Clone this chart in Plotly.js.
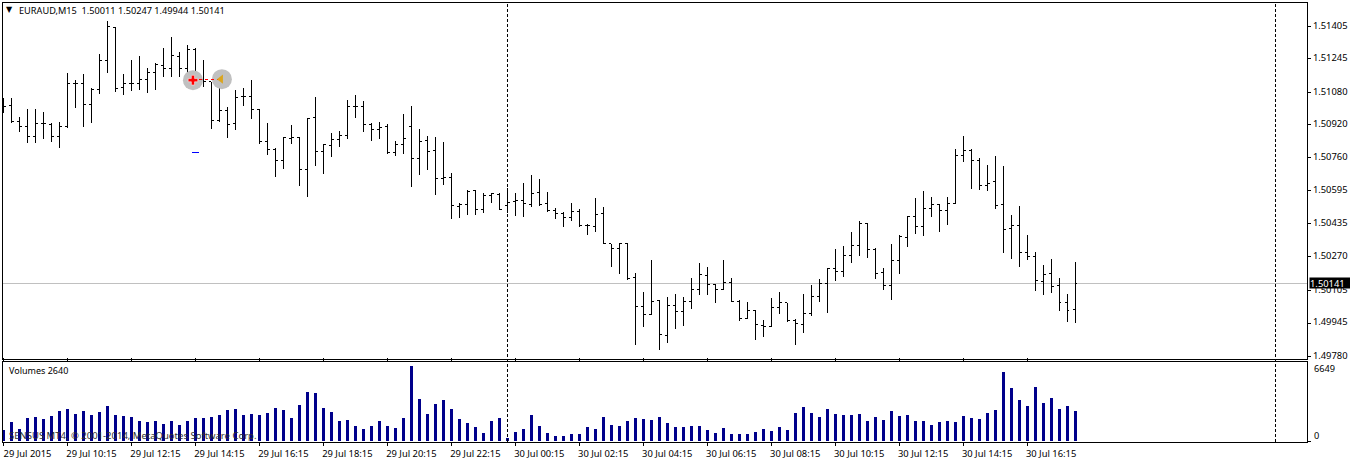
<!DOCTYPE html>
<html>
<head>
<meta charset="utf-8">
<script src="https://cdn.plot.ly/plotly-3.0.1.min.js"></script>
<style>
html,body{margin:0;padding:0;background:#fff;overflow:hidden}
.ohlclayer path,.shapelayer path,.scatterlayer .js-line{shape-rendering:crispEdges}
</style>
</head>
<body>
<div id="chart" style="width:1350px;height:460px"></div>
<script>
const barIndex = Array.from({length:135},(_,i)=>i);
const opens = [
1.51012,1.51015,1.50935,1.50912,1.50863,1.50925,1.50922,1.50863,1.50910,1.51123,
1.51123,1.51020,1.51094,1.51237,1.51399,1.51102,1.51123,1.51123,1.51143,1.51177,
1.51212,1.51197,1.51258,1.51197,1.51291,1.51143,1.51132,1.50941,1.50991,1.50927,
1.51058,1.51058,1.50995,1.50838,1.50799,1.50746,1.50854,1.50858,1.50700,1.50956,
1.50789,1.50820,1.50848,1.50868,1.51012,1.51012,1.50923,1.50897,1.50910,1.50784,
1.50823,1.50912,1.50754,1.50841,1.50794,1.50656,1.50661,1.50518,1.50528,1.50597,
1.50503,1.50572,1.50577,1.50523,1.50543,1.50548,1.50528,1.50587,1.50533,1.50499,
1.50484,1.50464,1.50494,1.50425,1.50420,1.50484,1.50335,1.50312,1.50336,1.50167,
1.50026,1.49987,1.50056,1.49884,1.50031,1.50002,1.50051,1.50110,1.50179,1.50134,
1.50110,1.50144,1.50051,1.49967,1.50007,1.49933,1.49928,1.50021,1.50046,1.49957,
1.49938,1.49992,1.50075,1.50139,1.50213,1.50198,1.50277,1.50326,1.50435,1.50307,
1.50193,1.50130,1.50253,1.50366,1.50469,1.50420,1.50508,1.50528,1.50498,1.50533,
1.50769,1.50794,1.50745,1.50622,1.50641,1.50528,1.50410,1.50425,1.50292,1.50272,
1.50149,1.50189,1.50130,1.50046,1.50011];
const highs = [
1.51050,1.51050,1.50961,1.50997,1.50997,1.50981,1.50931,1.50936,1.51173,1.51143,
1.51168,1.51099,1.51271,1.51433,1.51404,1.51168,1.51237,1.51261,1.51202,1.51222,
1.51300,1.51350,1.51281,1.51315,1.51296,1.51241,1.51132,1.51118,1.51010,1.51094,
1.51099,1.51143,1.51000,1.50927,1.50804,1.50861,1.50917,1.50858,1.50951,1.51059,
1.50828,1.50882,1.50892,1.51041,1.51066,1.51036,1.50931,1.50936,1.50923,1.50843,
1.50972,1.51015,1.50902,1.50863,1.50858,1.50838,1.50685,1.50538,1.50602,1.50602,
1.50587,1.50587,1.50587,1.50607,1.50587,1.50636,1.50671,1.50656,1.50592,1.50513,
1.50489,1.50538,1.50508,1.50430,1.50562,1.50518,1.50336,1.50336,1.50341,1.50189,
1.50100,1.50257,1.50056,1.50075,1.50090,1.50075,1.50169,1.50238,1.50223,1.50139,
1.50253,1.50169,1.50056,1.50051,1.50007,1.49962,1.50066,1.50100,1.50046,1.49967,
1.50090,1.50130,1.50164,1.50213,1.50307,1.50326,1.50395,1.50449,1.50435,1.50316,
1.50218,1.50336,1.50380,1.50474,1.50562,1.50597,1.50567,1.50533,1.50567,1.50799,
1.50863,1.50799,1.50759,1.50725,1.50769,1.50720,1.50479,1.50523,1.50376,1.50297,
1.50233,1.50262,1.50169,1.50090,1.50247];
const lows = [
1.50976,1.50931,1.50886,1.50831,1.50831,1.50851,1.50836,1.50807,1.50907,1.51004,
1.50910,1.50930,1.51071,1.51176,1.51082,1.51068,1.51087,1.51094,1.51077,1.51092,
1.51156,1.51156,1.51156,1.51156,1.51107,1.51107,1.50900,1.50935,1.50856,1.50895,
1.51013,1.50950,1.50828,1.50772,1.50664,1.50704,1.50827,1.50617,1.50566,1.50718,
1.50679,1.50763,1.50812,1.50849,1.50954,1.50886,1.50841,1.50851,1.50777,1.50767,
1.50777,1.50615,1.50674,1.50699,1.50576,1.50625,1.50458,1.50462,1.50477,1.50477,
1.50487,1.50536,1.50502,1.50484,1.50472,1.50467,1.50517,1.50523,1.50489,1.50458,
1.50418,1.50448,1.50418,1.50379,1.50394,1.50335,1.50221,1.50187,1.50157,1.49838,
1.49926,1.49987,1.49813,1.49849,1.49918,1.49931,1.50016,1.50084,1.50084,1.50044,
1.50110,1.50051,1.49957,1.49967,1.49864,1.49874,1.49928,1.49990,1.49952,1.49839,
1.49898,1.49982,1.50051,1.49992,1.50154,1.50174,1.50238,1.50277,1.50267,1.50162,
1.50108,1.50056,1.50187,1.50321,1.50384,1.50374,1.50467,1.50394,1.50428,1.50533,
1.50735,1.50605,1.50602,1.50597,1.50508,1.50292,1.50261,1.50223,1.50257,1.50103,
1.50084,1.50093,1.50005,1.49951,1.49944];
const closes = [
1.51012,1.50935,1.50912,1.50863,1.50925,1.50925,1.50863,1.50910,1.51123,1.51123,
1.51020,1.51094,1.51237,1.51404,1.51099,1.51123,1.51123,1.51143,1.51177,1.51217,
1.51197,1.51261,1.51197,1.51291,1.51143,1.51132,1.50941,1.50991,1.50922,1.51053,
1.51058,1.50995,1.50838,1.50799,1.50746,1.50858,1.50858,1.50700,1.50951,1.50789,
1.50823,1.50848,1.50868,1.51012,1.51012,1.50923,1.50897,1.50907,1.50784,1.50823,
1.50853,1.50754,1.50838,1.50789,1.50656,1.50661,1.50523,1.50528,1.50592,1.50503,
1.50572,1.50582,1.50503,1.50538,1.50548,1.50533,1.50582,1.50528,1.50499,1.50484,
1.50464,1.50494,1.50425,1.50425,1.50479,1.50335,1.50312,1.50336,1.50162,1.50026,
1.49987,1.50051,1.49888,1.50031,1.50002,1.50051,1.50110,1.50184,1.50134,1.50110,
1.50144,1.50051,1.49967,1.50007,1.49938,1.49928,1.50021,1.50046,1.49957,1.49943,
1.49992,1.50075,1.50139,1.50213,1.50198,1.50277,1.50326,1.50435,1.50307,1.50189,
1.50130,1.50253,1.50371,1.50469,1.50420,1.50508,1.50528,1.50498,1.50533,1.50769,
1.50794,1.50745,1.50622,1.50631,1.50523,1.50405,1.50425,1.50292,1.50272,1.50154,
1.50184,1.50125,1.50046,1.50007,1.50141];
const volumes = [
975,1684,1064,2039,2128,1950,2216,2660,2837,2394,
2660,2305,2571,3103,2305,2216,2128,1773,1684,1773,
1507,1773,1418,1773,2039,2039,2128,2305,2748,2837,
2305,2394,2305,2482,2925,2748,2039,3191,4344,4255,
2925,2571,1773,1862,1330,1064,1330,1773,1330,1152,
2039,6649,3723,2394,3280,3635,2837,1950,1596,1241,
709,1773,2039,266,798,1064,2305,1330,709,443,
443,621,621,1241,1064,2128,1418,1330,1773,2039,
1950,1862,2128,1596,1241,1241,1330,1330,975,709,
1152,621,621,621,798,1064,887,1241,975,2482,
3014,2482,2128,2837,2394,2305,2305,2394,1773,2128,
1862,2660,2216,2305,1773,1773,1418,1684,1773,1684,
2216,2039,1950,2482,2748,6117,4698,3635,3103,4787,
3369,3812,2837,3103,2640];
const timeTickBars = [0,8,16,24,32,40,48,56,64,72,80,88,96,104,112,120,128];
const timeTickLabels = ["29 Jul 2015","29 Jul 10:15","29 Jul 12:15","29 Jul 14:15","29 Jul 16:15","29 Jul 18:15","29 Jul 20:15","29 Jul 22:15","30 Jul 00:15","30 Jul 02:15","30 Jul 04:15","30 Jul 06:15","30 Jul 08:15","30 Jul 10:15","30 Jul 12:15","30 Jul 14:15","30 Jul 16:15"];
const priceTicks = [1.51405,1.51245,1.51080,1.50920,1.50760,1.50595,1.50435,1.50270,1.50105,1.49945,1.49780];
const priceTickLabels = ["1.51405","1.51245","1.51080","1.50920","1.50760","1.50595","1.50435","1.50270","1.50105","1.49945","1.49780"];
const lastPrice = 1.50141;
const periodSeparatorBars = [63,159];
const tradeBars = [23.69,27.19];
const tradePrices = [1.51140,1.51145];
const tradeHaloBars = [23.69,27.31];
const stopLevelBars = [23.56,24.44];
const stopLevelPrices = [1.50783,1.50783];

const W=1350,H=460;
const FONT='"Noto Sans", Tahoma, sans-serif';
const px=x=>x/W, py=y=>1-y/H;
function label(text,x,y,opt){
  return Object.assign({text:text,xref:'paper',yref:'paper',x:px(x),y:py(y),xanchor:'left',yanchor:'middle',
    showarrow:false,borderpad:0,font:{family:FONT,size:9.2,color:'#000'}},opt||{});
}

const data=[
 {type:'ohlc',x:barIndex,open:opens,high:highs,low:lows,close:closes,xaxis:'x',yaxis:'y',tickwidth:0.3,
  increasing:{line:{color:'#000',width:1}},decreasing:{line:{color:'#000',width:1}},hoverinfo:'skip'},
 {type:'bar',x:barIndex,y:volumes,xaxis:'x',yaxis:'y2',width:0.375,marker:{color:'#00008b',line:{width:0}},hoverinfo:'skip'},
 {type:'scatter',mode:'markers',x:tradeHaloBars,y:tradePrices,xaxis:'x',yaxis:'y',
  marker:{symbol:'circle',size:20,color:'#c0c0c0',line:{width:0}},hoverinfo:'skip'},
 {type:'scatter',mode:'lines',x:tradeBars,y:tradePrices,xaxis:'x',yaxis:'y',
  line:{color:'#ff0000',width:1,dash:'3px,3px'},hoverinfo:'skip'},
 {type:'scatter',mode:'markers',x:[tradeBars[0]],y:[tradePrices[0]],xaxis:'x',yaxis:'y',
  marker:{symbol:'cross',size:8,color:'#ff0000',line:{color:'#fff',width:0.5}},hoverinfo:'skip'},
 {type:'scatter',mode:'markers',x:[tradeBars[1]],y:[tradePrices[1]],xaxis:'x',yaxis:'y',
  marker:{symbol:'triangle-left',size:8,color:'#daa520',line:{width:0}},hoverinfo:'skip'},
 {type:'scatter',mode:'lines',x:stopLevelBars,y:stopLevelPrices,xaxis:'x',yaxis:'y',
  line:{color:'#0000ff',width:1},hoverinfo:'skip'}
];

const shapes=[
 {type:'line',xref:'x domain',yref:'y',x0:0,x1:1,y0:lastPrice,y1:lastPrice,line:{color:'#c0c0c0',width:1},layer:'below'}
];
periodSeparatorBars.forEach(b=>shapes.push({type:'line',xref:'x',yref:'paper',x0:b,x1:b,y0:py(442),y1:py(3),
  line:{color:'#000',width:1,dash:'3px,2px'},layer:'above'}));

const layout={
 width:W,height:H,margin:{l:0,r:0,t:0,b:0},paper_bgcolor:'#fff',plot_bgcolor:'#fff',showlegend:false,hovermode:false,
 bargap:0,font:{family:FONT,size:9.5,color:'#000'},
 xaxis:{domain:[px(3),px(1307)],anchor:'y2',range:[-0.0625,163],type:'linear',rangeslider:{visible:false},
  tickmode:'array',tickvals:timeTickBars,ticktext:timeTickLabels,ticks:'outside',ticklen:3,tickcolor:'#000',tickwidth:1,
  ticklabelshift:24,tickangle:0,tickfont:{family:FONT,size:9.4,color:'#000'},
  showgrid:false,zeroline:false,showline:true,linecolor:'#000',linewidth:1,mirror:'all'},
 yaxis:{domain:[py(359),py(3)],anchor:'x',side:'right',range:[1.497681,1.515196],
  tickmode:'array',tickvals:priceTicks,ticktext:priceTickLabels,ticks:'outside',ticklen:3,tickcolor:'#000',tickwidth:1,
  ticklabelshift:-1,tickfont:{family:FONT,size:9.4,color:'#000'},showgrid:false,zeroline:false,showline:true,linecolor:'#000',linewidth:1,mirror:true},
 yaxis2:{domain:[py(442),py(362)],anchor:'x',side:'right',range:[-89,7004],
  tickmode:'array',tickvals:[0],ticks:'outside',ticklen:3,tickcolor:'#000',tickwidth:1,showticklabels:false,
  showgrid:false,zeroline:false,showline:true,linecolor:'#000',linewidth:1,mirror:true},
 shapes:shapes,
 annotations:[
  label('▼',4.5,10,{font:{family:'"DejaVu Sans"',size:8,color:'#000'}}),
  label('EURAUD,M15  1.50011 1.50247 1.49944 1.50141',18,10.5,{font:{family:FONT,size:9.2,color:'#000'}}),
  label('Volumes 2640',7.5,370.5,{font:{family:FONT,size:9,color:'#000'}}),
  label('SENSUS MT4, © 2001-2014, MetaQuotes Software Corp.',7.5,435,{font:{family:FONT,size:9.5,color:'#303030'}}),
  label('6649',1313,368.5),
  label('0',1313,435.5),
  {text:'1.50141',xref:'paper',yref:'y',x:px(1309),y:lastPrice,xanchor:'left',yanchor:'middle',showarrow:false,
   bgcolor:'#000',borderpad:0,width:41,height:10,align:'left',font:{family:FONT,size:9.4,color:'#fff'}}
 ]
};
Plotly.newPlot('chart',data,layout,{displayModeBar:false,staticPlot:true});
</script>
</body>
</html>
